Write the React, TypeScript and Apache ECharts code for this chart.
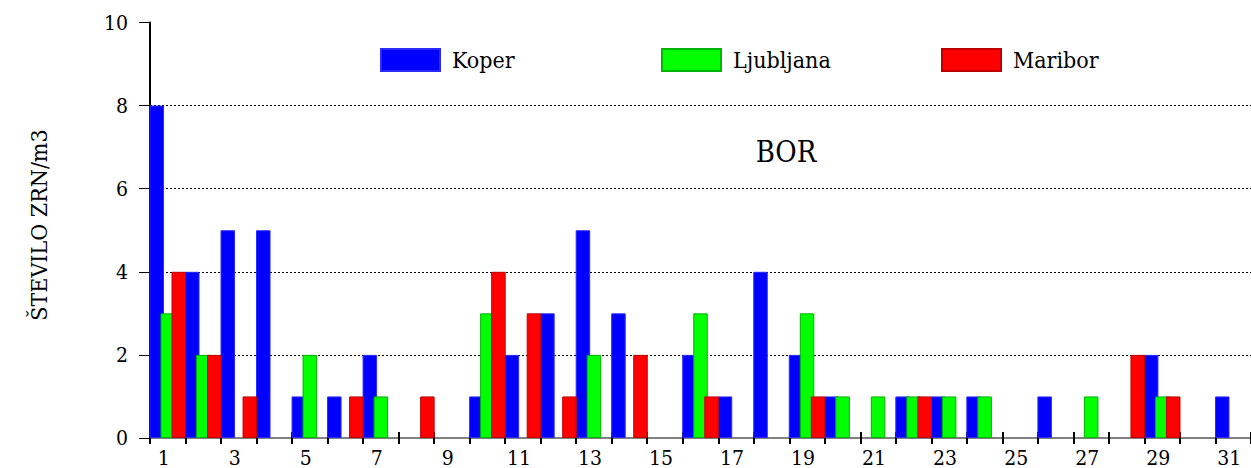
import React, { useEffect, useRef } from "react";
import * as echarts from "echarts";

const days = [
  "1", "2", "3", "4", "5", "6", "7", "8", "9", "10",
  "11", "12", "13", "14", "15", "16", "17", "18", "19", "20",
  "21", "22", "23", "24", "25", "26", "27", "28", "29", "30", "31",
];
const koper = [8, 4, 5, 5, 1, 1, 2, 0, 0, 1, 2, 3, 5, 3, 0, 2, 1, 4, 2, 1, 0, 1, 1, 1, 0, 1, 0, 0, 2, 0, 1];
const ljubljana = [3, 2, 0, 0, 2, 0, 1, 0, 0, 3, 0, 0, 2, 0, 0, 3, 0, 0, 3, 1, 1, 1, 1, 1, 0, 0, 1, 0, 1, 0, 0];
const maribor = [4, 2, 1, 0, 0, 1, 0, 1, 0, 4, 3, 1, 0, 2, 0, 1, 0, 0, 1, 0, 0, 1, 0, 0, 0, 0, 0, 2, 1, 0, 0];

const seriesNames = ["Koper", "Ljubljana", "Maribor"];
const axisTitle = "ŠTEVILO ZRN/m3";
const chartTitle = "BOR";

const FONT = "DejaVu Serif Condensed, DejaVu Serif";

export default function App() {
  const ref = useRef<HTMLDivElement>(null);

  useEffect(() => {
    const chart = echarts.init(ref.current!, null, { renderer: "svg" });
    const nz = (a: number[]) => a.map((v) => (v === 0 ? null : v));
    const mk = (name: string, data: number[], color: string, border: string) => ({
      name,
      type: "bar",
      data: nz(data),
      xAxisIndex: 0,
      yAxisIndex: 0,
      barWidth: 14.5,
      barGap: "-24%",
      itemStyle: { color, borderColor: border, borderWidth: 1 },
    });
    const legendBase = {
      top: 48,
      padding: 0,
      icon: "rect",
      itemWidth: 59,
      itemHeight: 22,
      textStyle: { fontSize: 23, fontFamily: FONT, color: "#000", padding: [0, 0, 0, 7] },
    };
    const tickStyle = { color: "#000", width: 2 };
    chart.setOption({
      animation: false,
      textStyle: { fontFamily: FONT },
      grid: { left: 150, right: -10, top: 22.5, bottom: 27, containLabel: false },
      legend: [
        { ...legendBase, data: [seriesNames[0]], left: 380 },
        { ...legendBase, data: [seriesNames[1]], left: 661 },
        { ...legendBase, data: [seriesNames[2]], left: 941 },
      ],
      xAxis: [
        {
          type: "category",
          data: days,
          position: "bottom",
          boundaryGap: true,
          axisLine: { show: true, lineStyle: { color: "#808080", width: 2 } },
          axisTick: { show: true, interval: 0, length: 6, lineStyle: tickStyle },
          axisLabel: {
            interval: 1,
            margin: 9,
            fontSize: 21,
            fontFamily: FONT,
            color: "#000",
            padding: [0, 8, 0, 0],
          },
          splitLine: { show: false },
        },
        {
          type: "category",
          data: days,
          position: "bottom",
          boundaryGap: true,
          axisLine: { show: false },
          axisTick: { show: true, inside: true, interval: 0, length: 6, lineStyle: tickStyle },
          axisLabel: { show: false },
          splitLine: { show: false },
        },
      ],
      yAxis: {
        type: "value",
        min: 0,
        max: 10,
        interval: 2,
        axisLine: { show: true, lineStyle: { color: "#000", width: 2 } },
        axisTick: { show: true, length: 11, lineStyle: { color: "#000", width: 1 } },
        axisLabel: { margin: 22, fontSize: 21, fontFamily: FONT, color: "#000" },
        splitLine: {
          show: true,
          showMinLine: false,
          showMaxLine: false,
          lineStyle: { color: "#000", type: [2, 2], width: 1 },
        },
      },
      graphic: [
        {
          type: "text",
          x: 786,
          y: 152,
          style: {
            text: chartTitle,
            fontSize: 29,
            fontFamily: FONT,
            fill: "#000",
            align: "center",
            verticalAlign: "middle",
          },
        },
        {
          type: "text",
          x: 39,
          y: 225,
          rotation: Math.PI / 2,
          style: {
            text: axisTitle,
            fontSize: 23,
            fontFamily: FONT,
            fill: "#000",
            align: "center",
            verticalAlign: "middle",
          },
        },
      ],
      series: [
        mk(seriesNames[0], koper, "#0000ff", "#2a2aff"),
        mk(seriesNames[1], ljubljana, "#00ff00", "#00b400"),
        mk(seriesNames[2], maribor, "#ff0000", "#c00000"),
      ],
    });
    return () => chart.dispose();
  }, []);

  return (
    <div
      ref={ref}
      style={{ position: "absolute", left: 0, top: 0, width: 1251, height: 468 }}
    />
  );
}
